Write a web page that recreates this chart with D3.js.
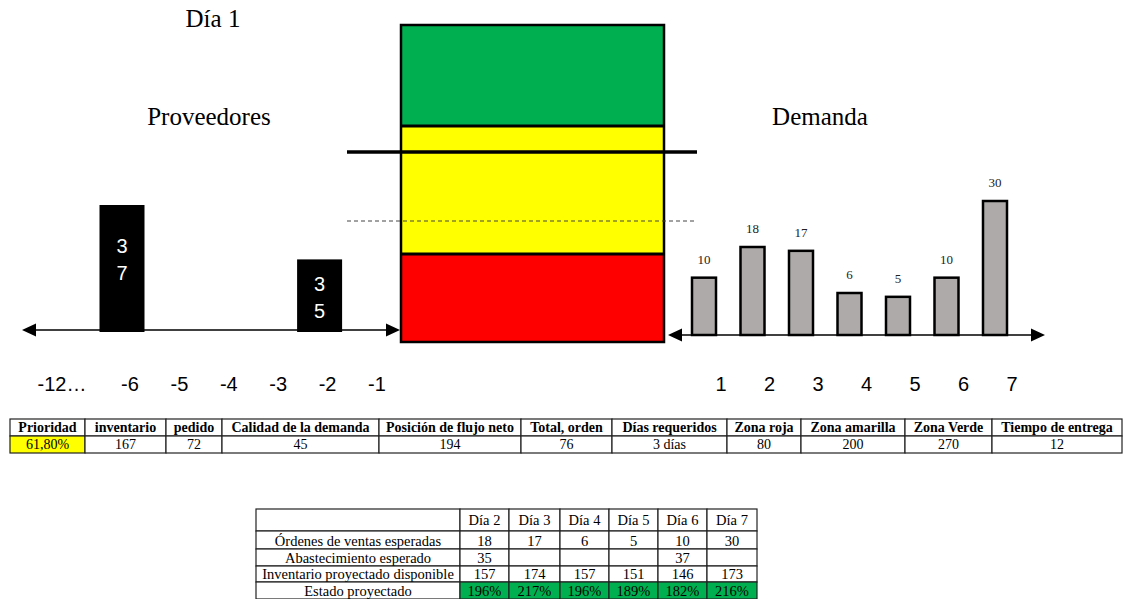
<!DOCTYPE html>
<html>
<head>
<meta charset="utf-8">
<script src="https://cdn.jsdelivr.net/npm/d3@7"></script>
<style>
  html, body { margin: 0; padding: 0; background: #fff; }
  svg { display: block; }
</style>
</head>
<body>
<svg id="chart" width="1126" height="599"></svg>
<script>
// ---- Data ----
const supplyDays = [-6, -5, -4, -3, -2, -1];
const supplyOrders = [ { day: -6, qty: 37 }, { day: -2, qty: 35 } ];
const demandDays = [1, 2, 3, 4, 5, 6, 7];
const demandQty = [10, 18, 17, 6, 5, 10, 30];

const zoneNames = ["Zona roja", "Zona amarilla", "Zona Verde"];
const zoneTops = [80, 200, 270];
const zoneColors = ["#ff0000", "#ffff00", "#00b050"];
const netFlowLevel = 194;
const onHandLevel = 167;

const summaryHeaders = ["Prioridad", "inventario", "pedido", "Calidad de la demanda",
  "Posición de flujo neto", "Total, orden", "Días requeridos", "Zona roja",
  "Zona amarilla", "Zona Verde", "Tiempo de entrega"];
const summaryValues = ["61,80%", "167", "72", "45", "194", "76", "3 días", "80", "200", "270", "12"];

const projDays = ["Día 2", "Día 3", "Día 4", "Día 5", "Día 6", "Día 7"];
const projRowLabels = ["Órdenes de ventas esperadas", "Abastecimiento esperado",
  "Inventario proyectado disponible", "Estado proyectado"];
const projOrders = [18, 17, 6, 5, 10, 30];
const projSupply = [35, "", "", "", 37, ""];
const projInventory = [157, 174, 157, 151, 146, 173];
const projStatus = ["196%", "217%", "196%", "189%", "182%", "216%"];

// ---- Setup ----
const svg = d3.select("#chart");
const serif = "'Liberation Serif', 'Times New Roman', serif";
const sans = "'Liberation Sans', Arial, sans-serif";

function arrow(g, x, y, dir) {
  // filled triangular arrow head, tip at (x, y)
  const L = 14, H = 6.5;
  g.append("path")
    .attr("d", `M${x},${y} L${x - dir * L},${y - H} L${x - dir * L},${y + H} Z`)
    .attr("fill", "#000");
}

// ---- Titles ----
svg.append("text").attr("x", 213).attr("y", 27).attr("text-anchor", "middle")
  .attr("font-family", serif).attr("font-size", 25).text("Día 1");
svg.append("text").attr("x", 209).attr("y", 125).attr("text-anchor", "middle")
  .attr("font-family", serif).attr("font-size", 25).text("Proveedores");
svg.append("text").attr("x", 820).attr("y", 125).attr("text-anchor", "middle")
  .attr("font-family", serif).attr("font-size", 25).text("Demanda");

// ---- Supplier side ----
const supAxisY = 330;
const xs = d3.scaleLinear().domain([-6, -1]).range([130, 377]);
const ys = d3.scaleLinear().domain([32.33, 37]).range([supAxisY + 2, 205]);
const gs = svg.append("g");

gs.append("line").attr("x1", 30).attr("x2", 392).attr("y1", supAxisY).attr("y2", supAxisY)
  .attr("stroke", "#000").attr("stroke-width", 1.5);
arrow(gs, 22, supAxisY, -1);
arrow(gs, 400, supAxisY, 1);

const barW = 45;
const sb = gs.selectAll("g.sbar").data(supplyOrders).join("g").attr("class", "sbar");
sb.append("rect")
  .attr("x", d => xs(d.day) - 8 - barW / 2)
  .attr("y", d => ys(d.qty))
  .attr("width", barW)
  .attr("height", d => ys.range()[0] - ys(d.qty))
  .attr("fill", "#000");
sb.each(function (d) {
  const h = ys.range()[0] - ys(d.qty);
  const top = ys(d.qty);
  const digits = String(d.qty).split("");
  d3.select(this).selectAll("text").data(digits).join("text")
    .attr("x", xs(d.day) - 8)
    .attr("y", (c, i) => top + 0.3 * h + 3 + i * 27 + 7)
    .attr("text-anchor", "middle")
    .attr("font-family", sans).attr("font-size", 20).attr("fill", "#fff")
    .text(c => c);
});

// supplier tick labels
gs.selectAll("text.stick").data(supplyDays).join("text").attr("class", "stick")
  .attr("x", d => xs(d)).attr("y", 391).attr("text-anchor", "middle")
  .attr("font-family", sans).attr("font-size", 20).text(d => String(d));
gs.append("text").attr("x", xs(-6) - 68).attr("y", 391).attr("text-anchor", "middle")
  .attr("font-family", sans).attr("font-size", 20).text("-12…");

// ---- Buffer column ----
const yb = d3.scaleLinear()
  .domain([0, zoneTops[0], onHandLevel, netFlowLevel, zoneTops[1], zoneTops[2]])
  .range([342, 254, 221, 152, 126, 25]);
const bx0 = 401, bx1 = 664;
const gb = svg.append("g");
const zoneBottoms = [0, zoneTops[0], zoneTops[1]];
gb.selectAll("rect.zone").data(zoneNames).join("rect").attr("class", "zone")
  .attr("x", bx0).attr("width", bx1 - bx0)
  .attr("y", (d, i) => yb(zoneTops[i]))
  .attr("height", (d, i) => yb(zoneBottoms[i]) - yb(zoneTops[i]))
  .attr("fill", (d, i) => zoneColors[i]);
// zone separators
gb.selectAll("line.sep").data(zoneTops.slice(0, 2)).join("line").attr("class", "sep")
  .attr("x1", bx0).attr("x2", bx1).attr("y1", d => yb(d)).attr("y2", d => yb(d))
  .attr("stroke", "#000").attr("stroke-width", 3);
gb.append("rect").attr("x", bx0).attr("y", yb(zoneTops[2]))
  .attr("width", bx1 - bx0).attr("height", yb(0) - yb(zoneTops[2]))
  .attr("fill", "none").attr("stroke", "#000").attr("stroke-width", 2.5);
// level markers
gb.append("line").attr("x1", 347).attr("x2", 697)
  .attr("y1", yb(netFlowLevel)).attr("y2", yb(netFlowLevel))
  .attr("stroke", "#000").attr("stroke-width", 3.5);
gb.append("line").attr("x1", 347).attr("x2", 697)
  .attr("y1", yb(onHandLevel)).attr("y2", yb(onHandLevel))
  .attr("stroke", "#444").attr("stroke-width", 1).attr("stroke-dasharray", "4,3");

// ---- Demand side ----
const demAxisY = 335;
const xd = d3.scalePoint().domain(demandDays).range([721, 1012]);
const yd = d3.scaleLinear().domain([0, 30]).range([demAxisY - 19, demAxisY - 134]);
const gd = svg.append("g");
gd.append("line").attr("x1", 676).attr("x2", 1037).attr("y1", demAxisY).attr("y2", demAxisY)
  .attr("stroke", "#000").attr("stroke-width", 1.5);
arrow(gd, 668, demAxisY, -1);
arrow(gd, 1045, demAxisY, 1);

const dW = 24;
gd.selectAll("rect.dbar").data(demandQty).join("rect").attr("class", "dbar")
  .attr("x", (d, i) => xd(demandDays[i]) - 17 - dW / 2)
  .attr("y", d => yd(d))
  .attr("width", dW)
  .attr("height", d => demAxisY - yd(d))
  .attr("fill", "#aeaaaa").attr("stroke", "#000").attr("stroke-width", 2.5);
gd.selectAll("text.dval").data(demandQty).join("text").attr("class", "dval")
  .attr("x", (d, i) => xd(demandDays[i]) - 17)
  .attr("y", d => yd(d) - 14)
  .attr("text-anchor", "middle")
  .attr("font-family", serif).attr("font-size", 13).attr("fill", "#222")
  .text(d => d);
gd.selectAll("text.dtick").data(demandDays).join("text").attr("class", "dtick")
  .attr("x", d => xd(d)).attr("y", 391).attr("text-anchor", "middle")
  .attr("font-family", sans).attr("font-size", 20).text(d => d);

// ---- Summary table ----
const t1Edges = [10, 85, 166, 222, 379, 521, 612, 727, 801, 905, 992, 1122];
const t1Rows = [419, 436, 453];
const gt1 = svg.append("g");
summaryHeaders.forEach((h, i) => {
  const x0 = t1Edges[i], x1 = t1Edges[i + 1];
  gt1.append("rect").attr("x", x0).attr("y", t1Rows[0]).attr("width", x1 - x0)
    .attr("height", t1Rows[1] - t1Rows[0]).attr("fill", "#fff")
    .attr("stroke", "#222").attr("stroke-width", 1.2);
  gt1.append("rect").attr("x", x0).attr("y", t1Rows[1]).attr("width", x1 - x0)
    .attr("height", t1Rows[2] - t1Rows[1]).attr("fill", i === 0 ? "#ffff00" : "#fff")
    .attr("stroke", "#222").attr("stroke-width", 1.2);
  gt1.append("text").attr("x", (x0 + x1) / 2).attr("y", 432).attr("text-anchor", "middle")
    .attr("font-family", serif).attr("font-size", 14).attr("font-weight", "bold").text(h);
  gt1.append("text").attr("x", (x0 + x1) / 2).attr("y", 449).attr("text-anchor", "middle")
    .attr("font-family", serif).attr("font-size", 14).text(summaryValues[i]);
});

// ---- Projection table ----
const t2Edges = [256, 460, 509, 560, 609, 658, 707, 757];
const t2Rows = [509, 531, 549, 566, 582, 599];
const projBody = [projOrders, projSupply, projInventory, projStatus];
const gt2 = svg.append("g");
const t2Cells = [["", ...projDays]].concat(projRowLabels.map((lab, r) => [lab, ...projBody[r]]));
t2Cells.forEach((row, r) => {
  row.forEach((val, c) => {
    const x0 = t2Edges[c], x1 = t2Edges[c + 1];
    const y0 = t2Rows[r], y1 = t2Rows[r + 1];
    const isStatus = r === 4 && c > 0;
    gt2.append("rect").attr("x", x0).attr("y", y0).attr("width", x1 - x0).attr("height", y1 - y0)
      .attr("fill", isStatus ? "#00b050" : "#fff")
      .attr("stroke", "#222").attr("stroke-width", 1.2);
    gt2.append("text").attr("x", (x0 + x1) / 2).attr("y", y1 - (r === 0 ? 6 : 3))
      .attr("text-anchor", "middle")
      .attr("font-family", serif).attr("font-size", 14.5).text(String(val));
  });
});
</script>
</body>
</html>
